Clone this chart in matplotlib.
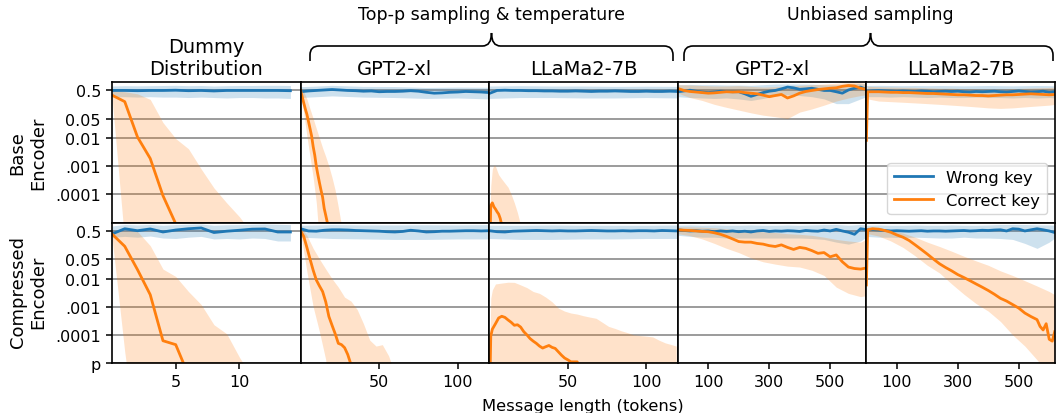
import matplotlib.pyplot as plt
from matplotlib.path import Path
from matplotlib.patches import PathPatch
from matplotlib.ticker import NullLocator

BLUE = '#1f77b4'
ORANGE = '#ff7f0e'

# ---------------- Dummy distribution ----------------
dummy_x = list(range(0, 15))
dummy_base_wrong = [0.5, 0.5, 0.49, 0.5, 0.5, 0.51, 0.49, 0.5, 0.48, 0.5, 0.5, 0.5, 0.5, 0.5, 0.49]
dummy_base_wrong_lo = [0.3, 0.3, 0.29, 0.3, 0.29, 0.29, 0.28, 0.29, 0.28, 0.27, 0.28, 0.28, 0.27, 0.27, 0.26]
dummy_base_wrong_hi = [0.72, 0.74, 0.73, 0.74, 0.75, 0.76, 0.74, 0.75, 0.72, 0.74, 0.75, 0.75, 0.76, 0.76, 0.75]
dummy_right_x = list(range(0, 7))
dummy_base_right = [0.34, 0.2, 0.011, 0.0019, 9e-5, 9e-6, 1e-7]
dummy_band_x = list(range(0, 13))
dummy_base_right_hi = [0.5, 0.45, 0.38, 0.24, 0.036, 0.0097, 0.0042, 8e-4, 1.7e-4, 5e-5, 1.6e-5, 4e-6, 1e-6]
dummy_base_right_lo = [0.3, 2e-6] + [1e-8] * 11

dummy_comp_wrong = [0.39, 0.6, 0.51, 0.59, 0.46, 0.54, 0.6, 0.64, 0.44, 0.49, 0.53, 0.58, 0.59, 0.46, 0.46]
dummy_comp_wrong_lo = [0.3, 0.32, 0.3, 0.33, 0.28, 0.27, 0.3, 0.32, 0.26, 0.27, 0.26, 0.28, 0.27, 0.22, 0.22]
dummy_comp_wrong_hi = [0.75, 0.85, 0.82, 0.85, 0.8, 0.84, 0.86, 0.88, 0.8, 0.83, 0.84, 0.86, 0.88, 0.86, 0.84]
dummy_comp_right = [0.39, 0.142, 0.021, 0.0027, 6.2e-5, 4.5e-5, 3.7e-6]
dummy_comp_right_hi = [0.5, 0.5, 0.48, 0.15, 0.022, 0.012, 0.0035, 0.0012, 2.3e-4, 1.1e-4, 1.6e-5, 3e-6, 1e-6]
dummy_comp_right_lo = [0.3, 2.5e-5] + [1e-8] * 11

# ---------------- Top-p sampling & temperature ----------------
topp_x = list(range(0, 121, 5))
topp_band_x = [0, 20, 40, 60, 80, 100, 120]

gpt_topp_base_wrong = [0.45, 0.48, 0.5, 0.52, 0.54, 0.52, 0.5, 0.49, 0.47, 0.48, 0.45, 0.46, 0.46,
                       0.47, 0.49, 0.47, 0.43, 0.4, 0.41, 0.43, 0.44, 0.46, 0.45, 0.44, 0.42]
gpt_topp_base_wrong_lo = [0.28, 0.32, 0.29, 0.28, 0.26, 0.27, 0.25]
gpt_topp_base_wrong_hi = [0.68, 0.76, 0.7, 0.69, 0.64, 0.66, 0.65]
gpt_topp_base_right_x = list(range(0, 19))
gpt_topp_base_right = [0.5, 0.3, 0.18, 0.11, 0.071, 0.04, 0.022, 0.012, 0.005, 0.0025, 0.001, 5e-4,
                       2.6e-4, 1.4e-4, 8e-5, 3.2e-5, 1.8e-5, 1e-5, 5e-6]
gpt_topp_base_band_x = list(range(0, 29, 2))
gpt_topp_base_right_hi = [0.65, 0.45, 0.25, 0.11, 0.05, 0.022, 0.01, 0.0045, 0.0022, 0.001, 4e-4,
                          1.4e-4, 3.5e-5, 8e-6, 2e-6]
gpt_topp_base_right_lo = [0.4, 0.08, 0.012, 0.0022, 4e-4, 5e-5, 2e-6] + [1e-8] * 8

gpt_topp_comp_wrong = [0.6, 0.5, 0.49, 0.53, 0.55, 0.55, 0.54, 0.52, 0.51, 0.5, 0.49, 0.47, 0.46,
                       0.48, 0.53, 0.5, 0.46, 0.47, 0.49, 0.49, 0.5, 0.51, 0.51, 0.5, 0.51]
gpt_topp_comp_wrong_lo = [0.3, 0.27, 0.26, 0.25, 0.25, 0.26, 0.26]
gpt_topp_comp_wrong_hi = [0.8, 0.84, 0.82, 0.82, 0.83, 0.82, 0.84]
gpt_topp_comp_right_x = list(range(0, 35, 2))
gpt_topp_comp_right = [0.5, 0.32, 0.13, 0.05, 0.02, 0.009, 0.0055, 0.0035, 0.0015, 4.5e-4, 2.2e-4,
                       1.1e-4, 5e-5, 4.5e-5, 3.5e-5, 2e-5, 9e-6, 4e-6]
gpt_topp_comp_band_x = list(range(0, 61, 4))
gpt_topp_comp_right_hi = [0.7, 0.35, 0.12, 0.05, 0.022, 0.01, 0.005, 0.0022, 0.0016, 8e-4, 2.5e-4,
                          6.5e-5, 4e-5, 4.5e-5, 1.8e-5, 4e-6]
gpt_topp_comp_right_lo = [0.45, 0.018, 0.001, 1.3e-4, 1.3e-5] + [1e-8] * 11

llama_topp_base_wrong = [0.39, 0.5, 0.51, 0.5, 0.5, 0.49, 0.49, 0.48, 0.48, 0.47, 0.47, 0.48, 0.47,
                         0.46, 0.47, 0.47, 0.48, 0.47, 0.46, 0.46, 0.47, 0.46, 0.46, 0.47, 0.46]
llama_topp_base_wrong_lo = [0.26, 0.28, 0.28, 0.27, 0.27, 0.28, 0.27]
llama_topp_base_wrong_hi = [0.72, 0.74, 0.72, 0.72, 0.7, 0.71, 0.7]
llama_topp_base_right_x = list(range(0, 9))
llama_topp_base_right = [1e-7, 4e-5, 5e-5, 3.6e-5, 3e-5, 2.4e-5, 2e-5, 1.4e-5, 8e-6]
llama_topp_base_band_x = [0, 1, 2, 3, 4, 5, 6, 8, 10, 12, 14, 16, 18, 20]
llama_topp_base_right_hi = [1e-6, 2e-4, 8e-4, 1.1e-3, 1.0e-3, 7e-4, 5e-4, 3.5e-4, 2.5e-4, 1.8e-4,
                            1e-4, 5e-5, 2.2e-5, 8e-6]
llama_topp_base_right_lo = [1e-9] * 14

llama_topp_comp_wrong = [0.51, 0.47, 0.46, 0.49, 0.5, 0.51, 0.52, 0.51, 0.5, 0.51, 0.5, 0.5, 0.51,
                         0.52, 0.51, 0.5, 0.5, 0.51, 0.5, 0.51, 0.51, 0.5, 0.52, 0.51, 0.5]
llama_topp_comp_wrong_lo = [0.27, 0.25, 0.25, 0.26, 0.26, 0.27, 0.27]
llama_topp_comp_wrong_hi = [0.8, 0.8, 0.82, 0.8, 0.8, 0.8, 0.82]
llama_topp_comp_right_x = [0, 1, 2] + list(range(4, 59, 2))
llama_topp_comp_right = [1e-7, 9e-5, 1.6e-4, 2.5e-4, 4e-4, 4.6e-4, 4.2e-4, 3.4e-4, 2.8e-4, 2.2e-4,
                         2.3e-4, 1.9e-4, 1.3e-4, 1e-4, 7.4e-5, 6e-5, 5e-5, 4e-5, 3.4e-5, 3.8e-5,
                         4.2e-5, 3.6e-5, 3.3e-5, 2.5e-5, 1.9e-5, 1.5e-5, 1.3e-5, 1.1e-5, 1.1e-5,
                         1.1e-5, 5e-6]
llama_topp_comp_band_x = [0, 1, 2, 4] + list(range(8, 117, 4)) + [119]
llama_topp_comp_right_hi = [1e-6, 0.002, 0.004, 0.0065, 0.007, 0.0075, 0.0074, 0.006, 0.0048, 0.0035,
                            0.003, 0.0022, 0.0015, 9e-4, 7e-4, 6e-4, 5.5e-4, 4.8e-4, 4.3e-4, 3.9e-4,
                            2.8e-4, 2e-4, 1.7e-4, 1.4e-4, 1.2e-4, 1e-4, 9.5e-5, 9e-5, 8.5e-5, 6.5e-5,
                            5.2e-5, 4.5e-5, 4e-5]
llama_topp_comp_right_lo = [1e-9] * 33

# ---------------- Unbiased sampling ----------------
unb_x = list(range(0, 601, 20)) + [618]
unb_band_x = list(range(0, 601, 40)) + [618]

gpt_unb_base_wrong = [0.45, 0.48, 0.51, 0.47, 0.44, 0.42, 0.44, 0.47, 0.46, 0.45, 0.45, 0.38, 0.31,
                      0.36, 0.42, 0.47, 0.5, 0.57, 0.66, 0.62, 0.55, 0.57, 0.6, 0.55, 0.5, 0.5,
                      0.45, 0.4, 0.52, 0.6, 0.66, 0.55]
gpt_unb_base_wrong_lo = [0.3, 0.28, 0.27, 0.26, 0.27, 0.25, 0.22, 0.26, 0.32, 0.35, 0.33, 0.3, 0.25,
                         0.17, 0.17, 0.25, 0.3]
gpt_unb_base_wrong_hi = [0.8, 0.82, 0.8, 0.8, 0.78, 0.78, 0.76, 0.8, 0.85, 0.85, 0.85, 0.84, 0.8,
                         0.8, 0.85, 0.9, 0.85]
gpt_unb_base_right = [0.59, 0.5, 0.46, 0.44, 0.42, 0.4, 0.41, 0.43, 0.45, 0.44, 0.45, 0.42, 0.4,
                      0.38, 0.34, 0.3, 0.33, 0.36, 0.27, 0.32, 0.4, 0.46, 0.5, 0.54, 0.57, 0.6,
                      0.62, 0.7, 0.75, 0.72, 0.6, 0.55]
gpt_unb_base_right_lo = [0.4, 0.28, 0.22, 0.16, 0.125, 0.1, 0.08, 0.066, 0.058, 0.05, 0.085, 0.11,
                         0.15, 0.21, 0.27, 0.33, 0.35]
gpt_unb_base_right_hi = [0.8, 0.78, 0.75, 0.72, 0.72, 0.74, 0.7, 0.66, 0.68, 0.7, 0.76, 0.8, 0.85,
                         0.9, 0.95, 0.95, 0.9]

gpt_unb_comp_wrong = [0.55, 0.52, 0.5, 0.51, 0.49, 0.5, 0.47, 0.5, 0.48, 0.5, 0.47, 0.49, 0.46, 0.5,
                      0.52, 0.48, 0.5, 0.49, 0.51, 0.5, 0.48, 0.52, 0.5, 0.49, 0.54, 0.5, 0.57,
                      0.5, 0.45, 0.38, 0.6, 0.56]
gpt_unb_comp_wrong_lo = [0.35, 0.32, 0.3, 0.3, 0.28, 0.28, 0.28, 0.28, 0.28, 0.28, 0.28, 0.27, 0.25,
                         0.2, 0.17, 0.22, 0.3]
gpt_unb_comp_wrong_hi = [0.8, 0.82, 0.8, 0.82, 0.8, 0.8, 0.82, 0.8, 0.8, 0.82, 0.8, 0.82, 0.84,
                         0.85, 0.8, 0.85, 0.82]
gpt_unb_comp_right = [0.55, 0.53, 0.52, 0.5, 0.48, 0.47, 0.43, 0.38, 0.32, 0.26, 0.21, 0.2, 0.2,
                      0.18, 0.17, 0.15, 0.14, 0.16, 0.13, 0.11, 0.13, 0.12, 0.1, 0.08, 0.085, 0.06,
                      0.07, 0.04, 0.026, 0.023, 0.022, 0.024]
gpt_unb_comp_right_lo = [0.4, 0.34, 0.26, 0.18, 0.12, 0.085, 0.055, 0.04, 0.033, 0.028, 0.026, 0.02,
                         0.013, 0.005, 0.003, 0.0023, 0.0025]
gpt_unb_comp_right_hi = [0.7, 0.7, 0.68, 0.65, 0.6, 0.55, 0.5, 0.47, 0.44, 0.4, 0.38, 0.35, 0.3,
                         0.25, 0.22, 0.2, 0.25]

llama_unb_base_wrong = [0.47, 0.49, 0.5, 0.49, 0.48, 0.47, 0.48, 0.47, 0.46, 0.48, 0.47, 0.45, 0.46,
                        0.47, 0.46, 0.47, 0.45, 0.44, 0.46, 0.45, 0.46, 0.47, 0.45, 0.44, 0.46, 0.48,
                        0.46, 0.44, 0.45, 0.47, 0.43, 0.45]
llama_unb_base_wrong_lo = [0.3, 0.3, 0.29, 0.3, 0.29, 0.28, 0.29, 0.28, 0.28, 0.29, 0.28, 0.28, 0.27,
                           0.28, 0.27, 0.28, 0.27]
llama_unb_base_wrong_hi = [0.75, 0.76, 0.75, 0.74, 0.75, 0.74, 0.75, 0.74, 0.73, 0.74, 0.75, 0.74,
                           0.73, 0.74, 0.75, 0.74, 0.73]
llama_unb_right_x = [0, 4] + list(range(20, 601, 20)) + [618]
llama_unb_base_right = [0.0084, 0.45, 0.45, 0.45, 0.44, 0.43, 0.43, 0.42, 0.42, 0.41, 0.4, 0.39,
                        0.39, 0.38, 0.37, 0.36, 0.35, 0.35, 0.34, 0.33, 0.33, 0.32, 0.33, 0.34, 0.35,
                        0.35, 0.36, 0.37, 0.38, 0.37, 0.36, 0.35, 0.36]
llama_unb_band_x = [0, 4] + list(range(40, 601, 40)) + [618]
llama_unb_base_right_lo = [0.003, 0.25, 0.21, 0.2, 0.19, 0.18, 0.17, 0.16, 0.15, 0.14, 0.13, 0.12,
                           0.115, 0.12, 0.13, 0.14, 0.15, 0.16]
llama_unb_base_right_hi = [0.02, 0.7, 0.68, 0.66, 0.65, 0.64, 0.62, 0.6, 0.6, 0.58, 0.57, 0.56,
                           0.56, 0.58, 0.6, 0.62, 0.64, 0.65]

llama_unb_comp_wrong = [0.55, 0.56, 0.54, 0.52, 0.5, 0.51, 0.5, 0.49, 0.5, 0.51, 0.49, 0.5, 0.5,
                        0.49, 0.5, 0.51, 0.52, 0.5, 0.51, 0.53, 0.52, 0.54, 0.55, 0.5, 0.6, 0.58,
                        0.5, 0.55, 0.6, 0.55, 0.5, 0.44]
llama_unb_comp_wrong_lo = [0.32, 0.3, 0.3, 0.29, 0.3, 0.29, 0.28, 0.28, 0.3, 0.28, 0.28, 0.27, 0.25,
                           0.18, 0.12, 0.2, 0.28]
llama_unb_comp_wrong_hi = [0.8, 0.82, 0.8, 0.8, 0.82, 0.8, 0.8, 0.82, 0.8, 0.8, 0.82, 0.85, 0.85,
                           0.85, 0.82, 0.82, 0.8]
llama_unb_comp_right_x = [0, 4] + list(range(20, 561, 20)) + [570, 580, 590, 600, 610, 618]
llama_unb_comp_right = [0.006, 0.55, 0.6, 0.58, 0.52, 0.45, 0.36, 0.3, 0.23, 0.16, 0.11, 0.075, 0.05,
                        0.034, 0.025, 0.019, 0.014, 0.011, 0.0085, 0.0065, 0.005, 0.0038, 0.0028,
                        0.002, 0.0016, 0.0012, 9e-4, 6e-4, 4.5e-4, 3.5e-4, 2e-4, 1.5e-4, 2.5e-4,
                        7e-5, 6e-5, 1.3e-4]
llama_unb_comp_right_hi = [0.01, 0.7, 0.65, 0.52, 0.42, 0.3, 0.2, 0.14, 0.095, 0.063, 0.043, 0.03,
                           0.019, 0.013, 0.0085, 0.0055, 0.0035, 0.0027]
llama_unb_comp_right_lo = [0.002, 0.4, 0.33, 0.22, 0.13, 0.065, 0.03, 0.016, 0.0065, 0.0028, 0.0013,
                           7e-4, 3e-4, 1e-4, 4e-5, 1.3e-5, 4e-6, 2.5e-6]

# ---------------- labels ----------------
col_titles = ['Dummy\nDistribution', 'GPT2-xl', 'LLaMa2-7B', 'GPT2-xl', 'LLaMa2-7B']
row_labels = ['Base\nEncoder', 'Compressed\nEncoder']
group_labels = ['Top-p sampling & temperature', 'Unbiased sampling']
y_ticks = [0.5, 0.05, 0.01, 0.001, 0.0001, 0.00001]
y_tick_labels = ['0.5', '0.05', '0.01', '.001', '.0001', 'p']
x_ticks = [[5, 10], [50, 100], [50, 100], [100, 300, 500], [100, 300, 500]]
x_limits = [(0, 14.8), (0, 120), (0, 120), (0, 619), (0, 619)]

panels = [
    [(dummy_x, dummy_base_wrong, dummy_x, dummy_base_wrong_lo, dummy_base_wrong_hi,
      dummy_right_x, dummy_base_right, dummy_band_x, dummy_base_right_lo, dummy_base_right_hi),
     (topp_x, gpt_topp_base_wrong, topp_band_x, gpt_topp_base_wrong_lo, gpt_topp_base_wrong_hi,
      gpt_topp_base_right_x, gpt_topp_base_right, gpt_topp_base_band_x, gpt_topp_base_right_lo,
      gpt_topp_base_right_hi),
     (topp_x, llama_topp_base_wrong, topp_band_x, llama_topp_base_wrong_lo, llama_topp_base_wrong_hi,
      llama_topp_base_right_x, llama_topp_base_right, llama_topp_base_band_x,
      llama_topp_base_right_lo, llama_topp_base_right_hi),
     (unb_x, gpt_unb_base_wrong, unb_band_x, gpt_unb_base_wrong_lo, gpt_unb_base_wrong_hi,
      unb_x, gpt_unb_base_right, unb_band_x, gpt_unb_base_right_lo, gpt_unb_base_right_hi),
     (unb_x, llama_unb_base_wrong, unb_band_x, llama_unb_base_wrong_lo, llama_unb_base_wrong_hi,
      llama_unb_right_x, llama_unb_base_right, llama_unb_band_x, llama_unb_base_right_lo,
      llama_unb_base_right_hi)],
    [(dummy_x, dummy_comp_wrong, dummy_x, dummy_comp_wrong_lo, dummy_comp_wrong_hi,
      dummy_right_x, dummy_comp_right, dummy_band_x, dummy_comp_right_lo, dummy_comp_right_hi),
     (topp_x, gpt_topp_comp_wrong, topp_band_x, gpt_topp_comp_wrong_lo, gpt_topp_comp_wrong_hi,
      gpt_topp_comp_right_x, gpt_topp_comp_right, gpt_topp_comp_band_x, gpt_topp_comp_right_lo,
      gpt_topp_comp_right_hi),
     (topp_x, llama_topp_comp_wrong, topp_band_x, llama_topp_comp_wrong_lo, llama_topp_comp_wrong_hi,
      llama_topp_comp_right_x, llama_topp_comp_right, llama_topp_comp_band_x,
      llama_topp_comp_right_lo, llama_topp_comp_right_hi),
     (unb_x, gpt_unb_comp_wrong, unb_band_x, gpt_unb_comp_wrong_lo, gpt_unb_comp_wrong_hi,
      unb_x, gpt_unb_comp_right, unb_band_x, gpt_unb_comp_right_lo, gpt_unb_comp_right_hi),
     (unb_x, llama_unb_comp_wrong, unb_band_x, llama_unb_comp_wrong_lo, llama_unb_comp_wrong_hi,
      llama_unb_comp_right_x, llama_unb_comp_right, llama_unb_band_x, llama_unb_comp_right_lo,
      llama_unb_comp_right_hi)],
]

W, H = 1056, 414


def fx(px):
    return px / W


def fy(py):
    return 1 - py / H


def draw_brace(fig, x0, x1, xm, y_end=62, y_bar=47, y_tip=34, r=9):
    """Curly brace drawn in figure pixels (top-left origin)"""
    pts = [(x0, y_end), (x0, y_end - 6), (x0, y_bar), (x0 + r, y_bar),
           (xm - r, y_bar), (xm, y_bar), (xm, y_tip),
           (xm, y_bar), (xm + r, y_bar),
           (x1 - r, y_bar), (x1, y_bar), (x1, y_end - 6), (x1, y_end)]
    codes = [Path.MOVETO, Path.LINETO, Path.CURVE3, Path.CURVE3,
             Path.LINETO, Path.CURVE3, Path.CURVE3,
             Path.CURVE3, Path.CURVE3,
             Path.LINETO, Path.CURVE3, Path.CURVE3, Path.LINETO]
    verts = [(fx(x), fy(y)) for x, y in pts]
    patch = PathPatch(Path(verts, codes), fill=False, lw=1.2, color='black',
                      transform=fig.transFigure)
    fig.add_artist(patch)


fig, axes = plt.subplots(2, 5, figsize=(10.56, 4.14), dpi=100)
fig.subplots_adjust(left=fx(112), right=fx(1055), top=fy(83), bottom=fy(364),
                    wspace=0, hspace=0)

for r in range(2):
    for c in range(5):
        ax = axes[r, c]
        (wx, w, wbx, wlo, whi, cx, cval, cbx, clo, chi) = panels[r][c]
        ax.set_yscale('log')
        ax.fill_between(wbx, wlo, whi, color=BLUE, alpha=0.22, lw=0)
        ax.fill_between(cbx, clo, chi, color=ORANGE, alpha=0.22, lw=0)
        ax.plot(wx, w, color=BLUE, lw=2.0, label='Wrong key')
        ax.plot(cx, cval, color=ORANGE, lw=2.0, label='Correct key')
        ax.set_ylim(1e-5, 1)
        ax.set_xlim(*x_limits[c])
        ax.yaxis.set_minor_locator(NullLocator())
        ax.xaxis.set_minor_locator(NullLocator())
        ax.grid(axis='y', color='gray', lw=1.1)
        ax.set_axisbelow(True)
        for s in ax.spines.values():
            s.set_linewidth(1.2)

        if r == 0:
            ax.set_yticks(y_ticks[:-1])
            ax.set_yticklabels(y_tick_labels[:-1])
            ax.set_xticks([])
            ax.set_title(col_titles[c], fontsize=14, pad=6)
        else:
            ax.set_yticks(y_ticks)
            ax.set_yticklabels(y_tick_labels)
            ax.set_xticks(x_ticks[c])
            ax.set_xticklabels([str(t) for t in x_ticks[c]])
        ax.tick_params(labelsize=11.5, length=4, width=1.1, pad=4)
        if c > 0:
            ax.tick_params(axis='y', left=False, labelleft=False)

axes[0, 4].legend(loc='lower right', fontsize=11.8, handlelength=2.4)

for r, lab in enumerate(row_labels):
    yc = 153.5 if r == 0 else 292
    fig.text(fx(28), fy(yc), lab, rotation=90, ha='center', va='center',
             fontsize=13, multialignment='center')

draw_brace(fig, 310, 673, 491.5)
draw_brace(fig, 684, 1053, 870.5)
fig.text(fx(491.5), fy(19.5), group_labels[0], ha='center', va='baseline', fontsize=12.5)
fig.text(fx(870.5), fy(19.5), group_labels[1], ha='center', va='baseline', fontsize=12.5)

fig.text(fx(583), fy(411), 'Message length (tokens)', ha='center', va='baseline',
         fontsize=11.8)

fig.savefig('out.png', dpi=100)
